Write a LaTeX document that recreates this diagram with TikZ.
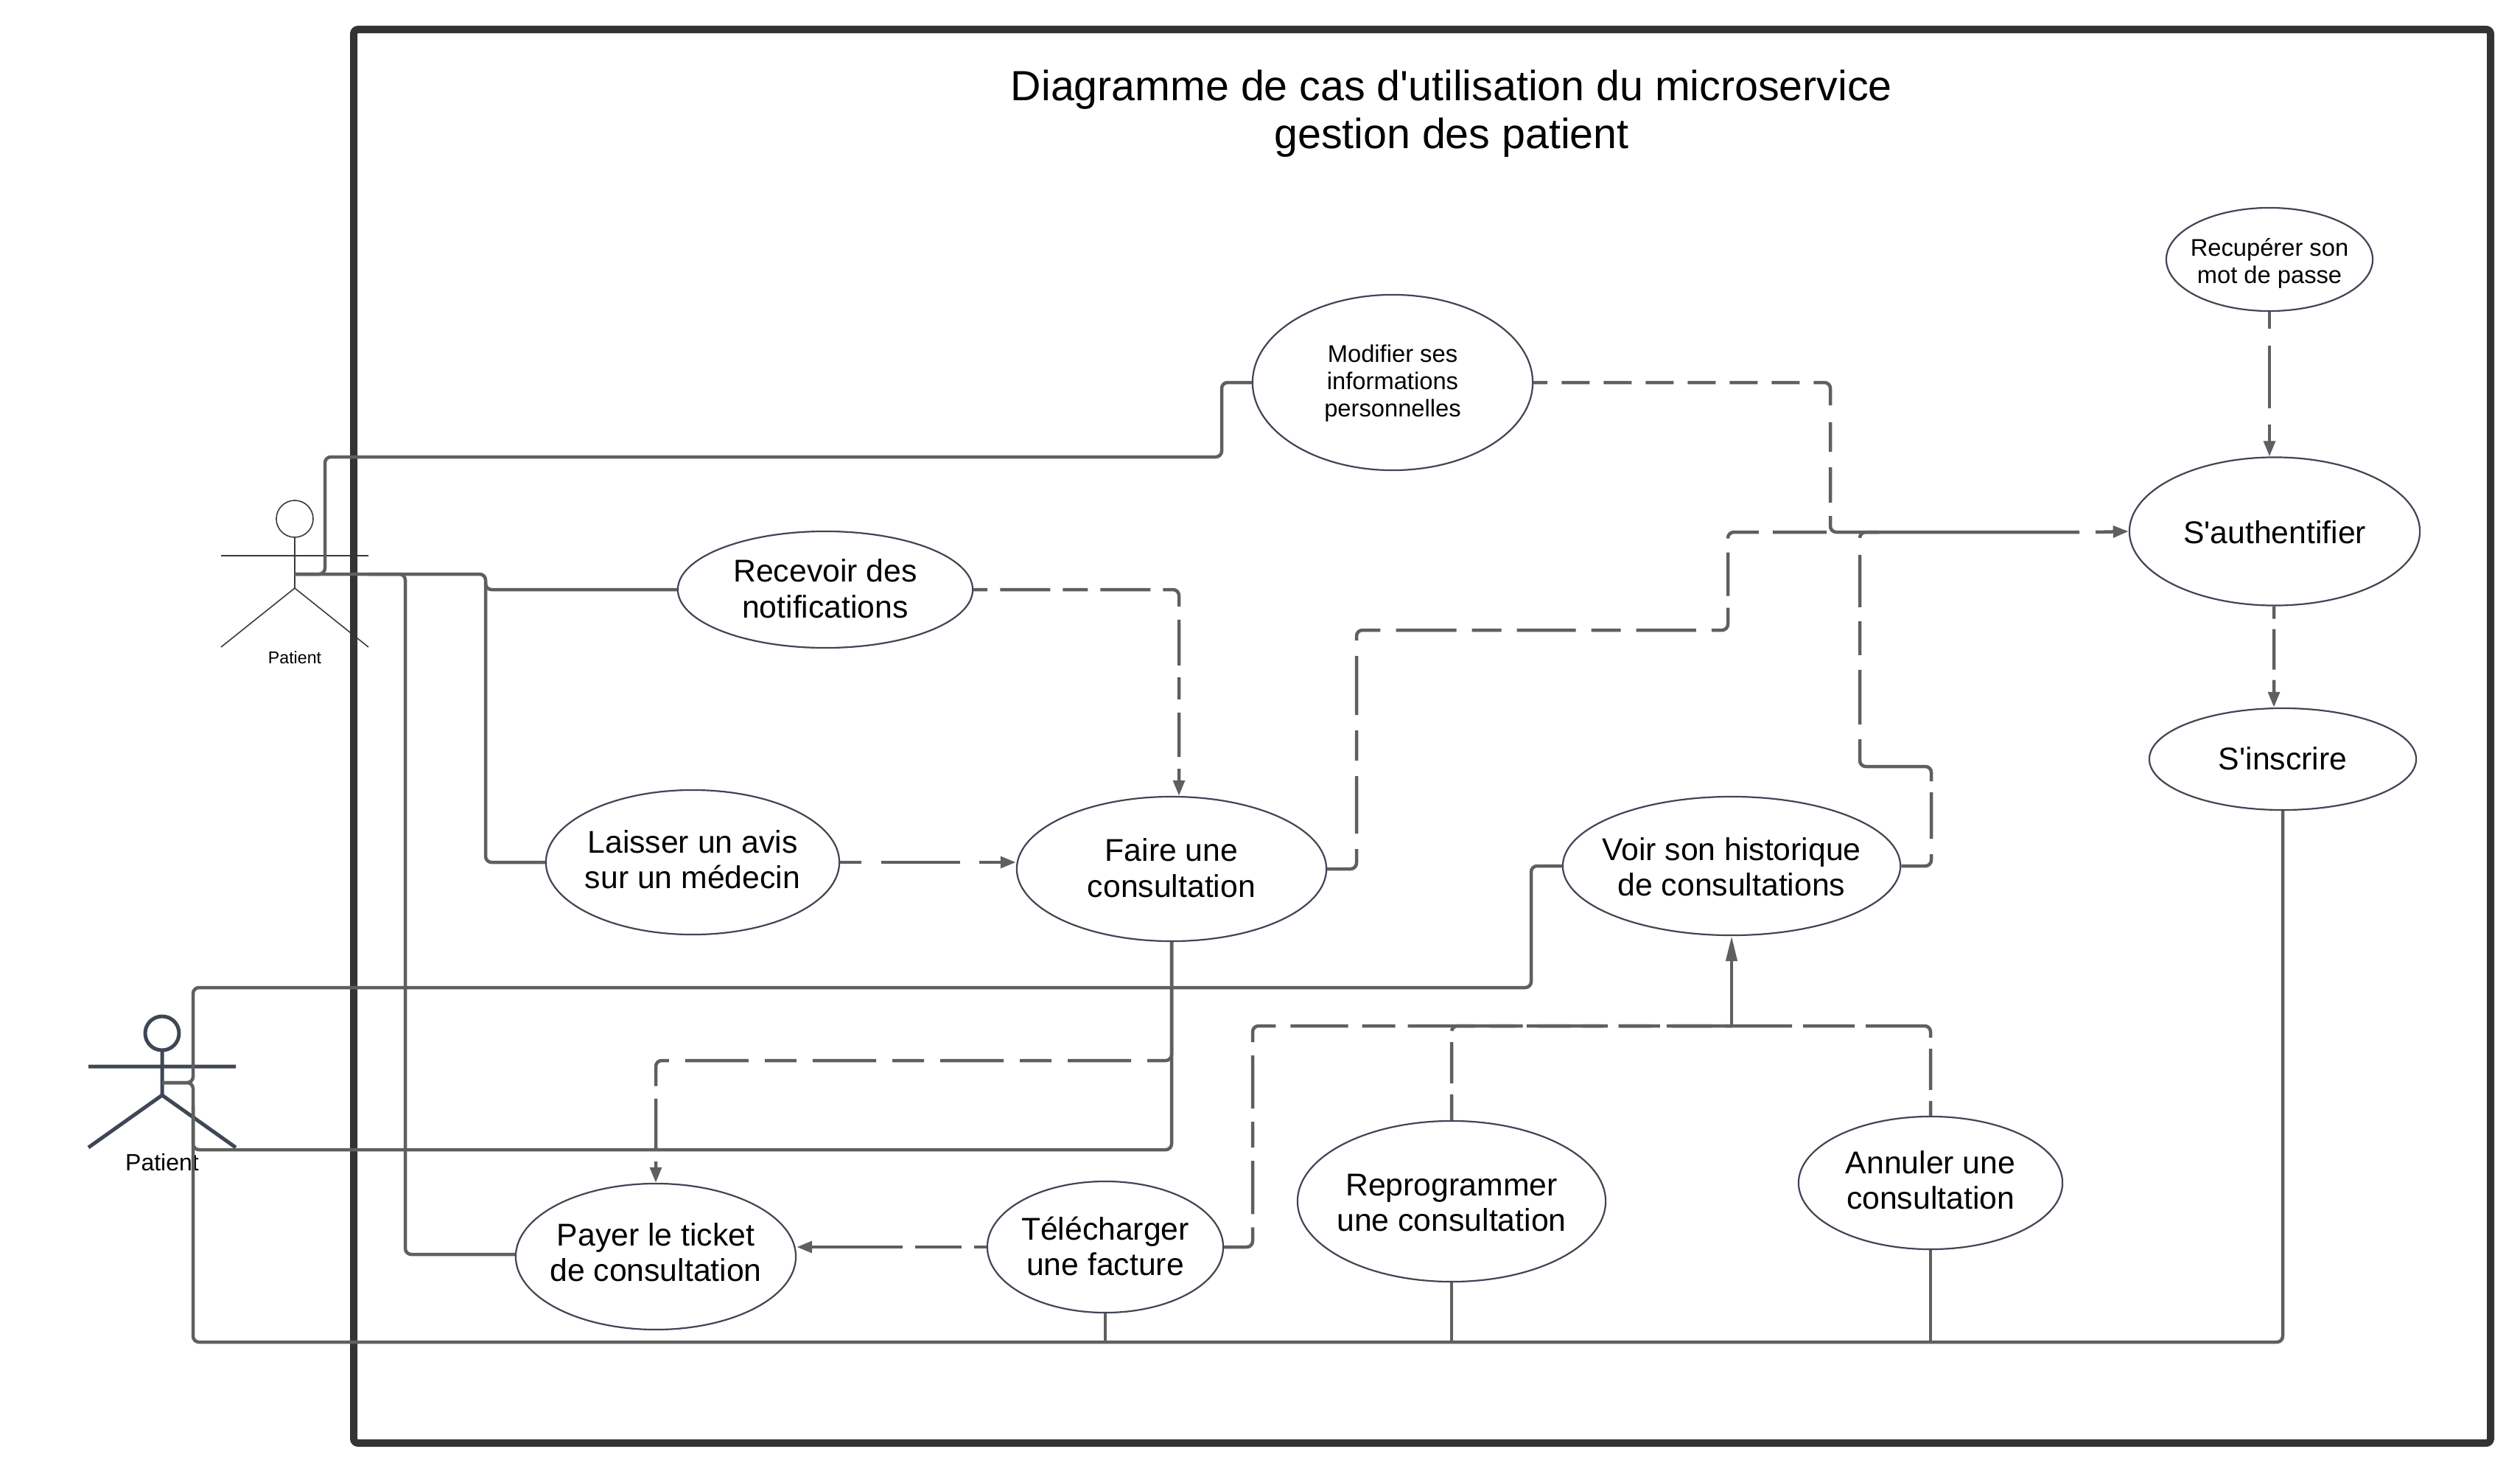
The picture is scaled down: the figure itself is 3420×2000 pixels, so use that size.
\documentclass[tikz,border=0pt]{standalone}
\usepackage{fontspec}
\setmainfont{Liberation Sans}
\usetikzlibrary{shapes.geometric,arrows.meta}
\newcommand{\titlefont}{\fontsize{16.3pt}{18.6pt}\selectfont}
\newcommand{\mainfont}{\fontsize{12.15pt}{13.66pt}\selectfont}
\newcommand{\smallfont}{\fontsize{9.3pt}{10.6pt}\selectfont}
% text of a use case, raised by #1 without changing the size of the box
\newcommand{\tx}[2]{\raisebox{#1}[\height][\depth]{\begin{tabular}{@{}c@{}}#2\end{tabular}}}
\tikzset{
  x=0.01cm,y=-0.01cm,
  usecase/.style={ellipse,draw=nodeedge,line width=0.022cm,fill=white,inner xsep=-0.9cm,inner ysep=-0.4cm,font=\mainfont,text=black},
  usecasesmall/.style={usecase,font=\smallfont},
  assoc/.style={draw=conn,line width=0.045cm,rounded corners=0.08cm},
  assocthin/.style={assoc,line width=0.035cm},
  tip/.style={-{Triangle[length=0.21cm,width=0.155cm]}},
  longtip/.style={-{Triangle[length=0.34cm,width=0.15cm]}},
  actorthin/.style={draw=thinline,line width=0.016cm,line join=round},
  actorthick/.style={draw=nodeedge,line width=0.05cm,line join=round},
  frameline/.style={draw=framecol,line width=0.1cm,rounded corners=0.06cm},
}
\definecolor{conn}{HTML}{5F5F5F}
\definecolor{nodeedge}{HTML}{3F4654}
\definecolor{thinline}{HTML}{3A3A3A}
\definecolor{framecol}{HTML}{333333}
\begin{document}
\begin{tikzpicture}
\useasboundingbox (0,0) rectangle (3420,2000);
% actor 1 (under the frame)
\draw[actorthin] (400,704) ellipse (25 and 25);
\draw[actorthin] (400,729) -- (400,798) (300,754) -- (500,754) (300,878) -- (400,798) -- (500,878);
\node[font=\fontsize{6.6pt}{7.5pt}\selectfont,inner sep=0pt] (patientA) at (400,892) {Patient};
\coordinate (actorA) at (400,779);
% frame
\draw[frameline] (480,40) rectangle (3380,1958);
\node[font=\titlefont,align=center,inner sep=0pt] (title) at (1970,154) {Diagramme de cas d\textquotesingle utilisation du microservice\\gestion des patient};
% actor 2
\draw[actorthick] (220,1402) ellipse (23 and 23);
\draw[actorthick] (220,1425) -- (220,1486) (120,1447) -- (320,1447) (120,1557) -- (220,1486) -- (320,1557);
\node[font=\fontsize{9.1pt}{10pt}\selectfont,inner sep=0pt] (patientB) at (220,1577) {Patient};
\coordinate (actorB) at (220,1469);
% use cases
\node[usecasesmall,minimum width=3.80cm,minimum height=2.38cm] (modif) at (1890,519) {\tx{-0.022cm}{Modifier ses\\informations\\personnelles}};
\node[usecase,minimum width=4.00cm,minimum height=1.58cm] (recev) at (1120,800) {\tx{-0.044cm}{Recevoir des\\notifications}};
\node[usecase,minimum width=3.98cm,minimum height=1.96cm] (laiss) at (940,1170) {\tx{-0.022cm}{Laisser un avis\\sur un médecin}};
\node[usecase,minimum width=4.20cm,minimum height=1.96cm] (faire) at (1590,1179) {\tx{-0.044cm}{Faire une\\consultation}};
\node[usecase,minimum width=4.58cm,minimum height=1.88cm] (voir) at (2350,1175) {\tx{-0.066cm}{Voir son historique\\de consultations}};
\node[usecase,minimum width=3.80cm,minimum height=1.98cm] (payer) at (890,1705) {\tx{0cm}{Payer le ticket\\de consultation}};
\node[usecase,minimum width=3.20cm,minimum height=1.78cm] (telec) at (1500,1692) {\tx{-0.044cm}{Télécharger\\une facture}};
\node[usecase,minimum width=4.18cm,minimum height=2.18cm] (repro) at (1970,1630) {\tx{-0.066cm}{Reprogrammer\\une consultation}};
\node[usecase,minimum width=3.58cm,minimum height=1.80cm] (annul) at (2620,1605) {\tx{-0.022cm}{Annuler une\\consultation}};
\node[usecase,minimum width=3.94cm,minimum height=2.01cm] (auth) at (3087,721) {\tx{-0.065cm}{S\textquotesingle authentifier}};
\node[usecase,minimum width=3.62cm,minimum height=1.38cm] (inscr) at (3098,1030) {\tx{-0.044cm}{S\textquotesingle inscrire}};
\node[usecasesmall,minimum width=2.80cm,minimum height=1.40cm] (recup) at (3080,352) {\tx{-0.066cm}{Recupérer son\\mot de passe}};
% solid associations
\draw[assoc] (actorA) -- (441,779) -- (441,620) -- (1658,620) -- (1658,519) -- (modif.west);
\draw[assoc] (actorA) -- (659,779) -- (659,800) -- (recev.west);
\draw[assoc] (659,790) -- (659,1170) -- (laiss.west);
\draw[assoc] (500,779) -- (550,779) -- (550,1702) -- (payer.west |- 0,1702);
\draw[assoc] (actorB) -- (262,1469) -- (262,1340) -- (2078,1340) -- (2078,1175) -- (voir.west);
\draw[assoc] (actorB) -- (262,1469) -- (262,1560) -- (1590,1560) -- (faire.south);
\draw[assoc] (262,1500) -- (262,1821) -- (3098,1821) -- (inscr.south);
\draw[assocthin] (telec.south) -- (1500,1821);
\draw[assocthin] (repro.south) -- (repro.south |- 0,1821);
\draw[assocthin] (annul.south) -- (annul.south |- 0,1821);
% dashed dependencies
\draw[assoc,dash pattern=on 0.19cm off 0.19cm on 0.38cm off 0.19cm on 0.38cm off 0.19cm on 0.38cm off 0.19cm on 0.38cm off 0.19cm on 0.38cm off 0.19cm on 0.38cm off 0.19cm on 0.5cm off 0.23cm on 0.4cm off 0.21cm on 0.48cm off 0.18cm on 4.5cm]
  (modif.east) -- (2484,519) -- (2484,722) -- (2822,722);
\coordinate (authin) at (2844,722);
\draw[assoc,tip] (authin) -- (auth.west);
\draw[assoc,dash pattern=on 0.63cm off 0.21cm on 0.78cm off 0.21cm on 0.41cm off 0.21cm on 0.8cm off 0.21cm on 0.43cm off 0.21cm on 0.82cm off 0.21cm on 0.4cm off 0.21cm on 0.8cm off 0.21cm on 0.4cm off 0.21cm on 0.81cm off 0.21cm on 0.49cm off 0.16cm on 0.59cm off 0.19cm on 0.47cm off 0.19cm on 1cm]
  (faire.east) -- (1841,1179) -- (1841,855) -- (2345,855) -- (2345,722) -- (2479,722);
\draw[assoc,dash pattern=on 0.53cm off 0.21cm on 0.63cm off 0.15cm on 1.47cm off 0.2cm on 0.74cm off 0.2cm on 0.46cm off 0.19cm on 0.71cm off 0.23cm on 1cm]
  (voir.east) -- (2621,1175) -- (2621,1040) -- (2524,1040) -- (2524,722) -- (2550,722);
\draw[assoc,tip,dash pattern=on 0.23cm off 0.23cm on 0.85cm off 0.22cm on 0.9cm] (recup.south) -- (recup.south |- auth.north);
\draw[assoc,tip,dash pattern=on 0.17cm off 0.14cm on 0.55cm off 0.14cm on 0.9cm] ([xshift=-0.01cm]auth.south) -- ([xshift=-0.12cm]inscr.north);
\draw[assoc,tip,dash pattern=on 0.19cm off 0.17cm on 0.68cm off 0.17cm on 0.34cm off 0.17cm on 0.68cm off 0.17cm on 0.41cm off 0.18cm on 0.62cm off 0.16cm on 0.3cm off 0.18cm on 0.6cm off 0.16cm on 0.9cm]
  (recev.east) -- (1600,800) -- ([xshift=0.1cm]faire.north);
\draw[assoc,tip,dash pattern=on 0.29cm off 0.27cm on 1.07cm off 0.26cm on 0.9cm] (laiss.east) -- (faire.west |- laiss.east);
\draw[assoc,tip,dash pattern=on 1.9cm off 0.22cm on 0.86cm off 0.22cm on 0.43cm off 0.22cm on 0.86cm off 0.22cm on 0.43cm off 0.22cm on 0.86cm off 0.22cm on 0.43cm off 0.22cm on 0.86cm off 0.22cm on 0.49cm off 0.17cm on 0.67cm off 0.18cm on 1cm]
  (faire.south) -- (1590,1439) -- (890,1439) -- (payer.north);
\draw[assoc,tip,dash pattern=on 0.17cm off 0.17cm on 0.63cm off 0.17cm on 1.3cm] (telec.west) -- (payer.east |- telec.west);
\draw[assoc,dash pattern=on 0.62cm off 0.18cm on 0.72cm off 0.18cm on 0.35cm off 0.18cm on 0.72cm off 0.18cm on 0.5cm off 0.2cm on 0.78cm off 0.19cm on 0.45cm off 0.17cm on 0.91cm off 0.2cm on 0.45cm off 0.2cm on 0.9cm off 0.2cm on 0.45cm off 0.2cm]
  (telec.east) -- (1700,1692) -- (1700,1392) -- (2350,1392);
\draw[assoc,dash pattern=on 0.35cm off 0.15cm on 0.56cm off 0.15cm on 0.9cm off 0.15cm on 0.6cm off 0.15cm]
  (repro.north) -- (repro.north |- 0,1392) -- (2350,1392);
\draw[assoc,dash pattern=on 0.2cm off 0.15cm on 0.56cm off 0.15cm on 1cm off 0.15cm on 0.7cm off 0.15cm on 0.9cm off 0.15cm]
  (annul.north) -- (annul.north |- 0,1392) -- (2350,1392);
\coordinate (voirin) at (2350,1392);
\draw[assoc,longtip] (voirin) -- (voir.south);
\end{tikzpicture}
\end{document}
